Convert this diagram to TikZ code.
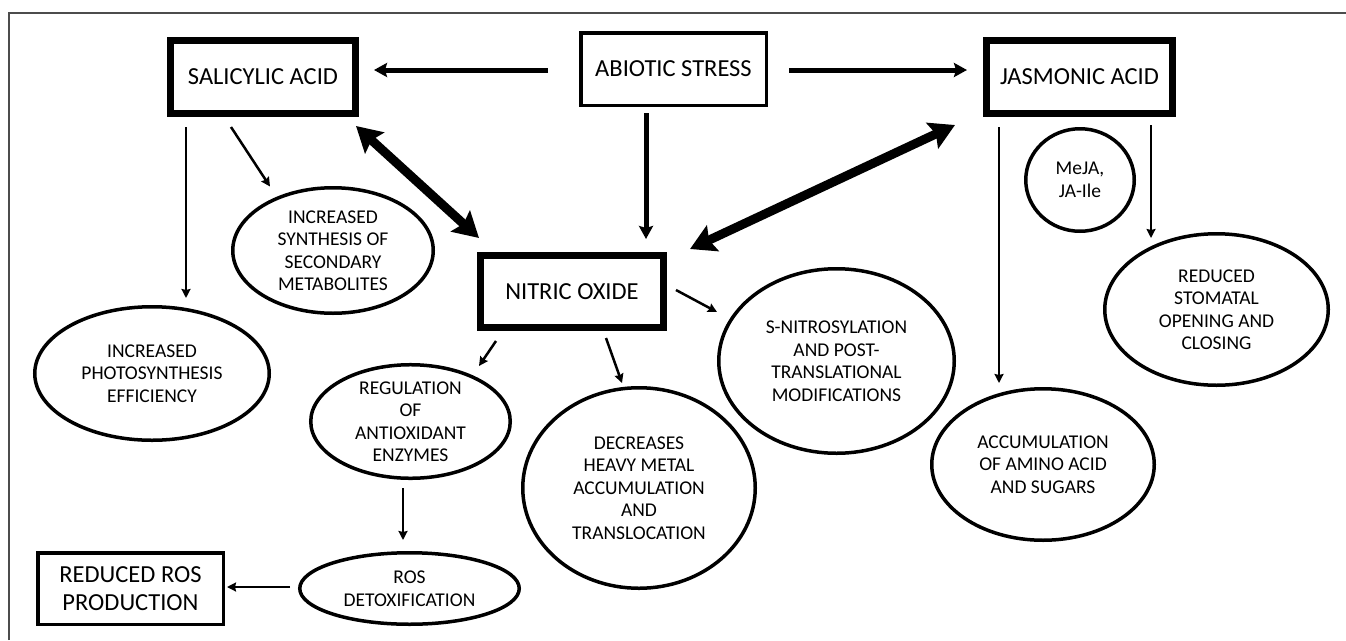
\documentclass[tikz,border=0pt]{standalone}
\usepackage{fontspec}
\setmainfont{Carlito}
\usetikzlibrary{arrows.meta,shapes.geometric,calc}
\tikzset{
  boxthick/.style={draw=black, line width=7pt, rectangle, inner sep=0pt, align=center,
    font=\fontsize{24.5}{28}\selectfont},
  boxthin/.style={draw=black, line width=3.5pt, rectangle, inner sep=0pt, align=center,
    font=\fontsize{24.5}{28}\selectfont},
  oval/.style={draw=black, line width=3.5pt, ellipse, inner sep=0pt, align=center,
    font=\fontsize{19.5}{22.5}\selectfont},
  medarrow/.style={line width=5pt, -{Stealth[length=13pt,width=14pt,inset=2pt]}},
  bigarrow/.style={line width=9pt, {Stealth[length=25pt,width=28pt,inset=4pt]}-{Stealth[length=25pt,width=28pt,inset=4pt]}},
  thinarrow/.style={line width=2.5pt, -{Stealth[length=9pt,width=9pt,inset=1pt]}},
  frameline/.style={draw=black!70, line width=1.2pt}
}
\begin{document}
\begin{tikzpicture}[x=1pt,y=-1pt]
\useasboundingbox (0,0) rectangle (1346,640);
\draw[frameline] (9,640) -- (9,13) -- (1346,13);

% boxes
\node[boxthick, minimum width=185pt, minimum height=73pt] (sa) at (263,77) {SALICYLIC ACID};
\node[boxthin, minimum width=185.5pt, minimum height=72.5pt] (abiotic) at (673.5,69) {ABIOTIC STRESS};
\node[boxthick, minimum width=186pt, minimum height=73pt] (ja) at (1079.5,77) {JASMONIC ACID};
\node[boxthick, minimum width=183pt, minimum height=72pt] (no) at (572,291.5) {NITRIC OXIDE};
\node[boxthin, minimum width=185.5pt, minimum height=71.5pt] (ros) at (130.5,588.5) {REDUCED ROS\\PRODUCTION};

% ellipses
\node[oval, minimum width=200.5pt, minimum height=125.5pt] (sec) at (333,250.5) {INCREASED\\SYNTHESIS OF\\SECONDARY\\METABOLITES};
\node[oval, minimum width=234.5pt, minimum height=133.5pt] (photo) at (152,373.5) {INCREASED\\PHOTOSYNTHESIS\\EFFICIENCY};
\node[oval, minimum width=199.5pt, minimum height=103.5pt] (reg) at (410.5,421.5) {REGULATION\\OF\\ANTIOXIDANT\\ENZYMES};
\node[oval, minimum width=219.5pt, minimum height=71.5pt] (detox) at (409.5,588.5) {ROS\\DETOXIFICATION};
\node[oval, minimum width=232.5pt, minimum height=200.5pt] (dec) at (639,488) {DECREASES\\HEAVY METAL\\ACCUMULATION\\AND\\TRANSLOCATION};
\node[oval, minimum width=235.5pt, minimum height=184.5pt] (snitro) at (836.5,361) {S-NITROSYLATION\\AND POST-\\TRANSLATIONAL\\MODIFICATIONS};
\node[oval, minimum width=222.5pt, minimum height=151.5pt] (accum) at (1043,464.5) {ACCUMULATION\\OF AMINO ACID\\AND SUGARS};
\node[oval, minimum width=108.5pt, minimum height=102.5pt] (meja) at (1080,180) {MeJA,\\JA-Ile};
\node[oval, minimum width=223.5pt, minimum height=151.5pt] (stom) at (1216.5,309.5) {REDUCED\\STOMATAL\\OPENING AND\\CLOSING};

% medium arrows from abiotic stress
\draw[medarrow] ($(abiotic.west)+(-31,1)$) -- ($(sa.east)+(15,-7)$);
\draw[medarrow] ($(abiotic.east)+(21,1)$) -- ($(ja.west)+(-16,-7)$);
\draw[medarrow] ($(abiotic.south)+(-27.5,6)$) -- ($(no.north)+(74,-13)$);

% thick double arrows
\draw[bigarrow] ($(sa.south east)+(-3,9)$) -- ($(no.north west)+(2,-14)$);
\draw[bigarrow] ($(ja.south west)+(-28,8)$) -- ($(no.north east)+(23,-3)$);

% thin arrows
\draw[thinarrow] ($(sa.south west)+(19,10)$) -- ($(photo.north)+(34,-7)$);
\draw[thinarrow] ($(sa.south west)+(64,10)$) -- ($(sec.north)+(-63,0.5)$);
\draw[thinarrow] ($(no.south west)+(19,10)$) -- ($(reg.north)+(68.5,3)$);
\draw[thinarrow] ($(reg.south)+(-7.5,8)$) -- ($(detox.north)+(-6.5,-11)$);
\draw[thinarrow] ($(detox.west)+(-8,-1.5)$) -- ($(ros.east)+(2,-1.5)$);
\draw[thinarrow] ($(no.south)+(34,7)$) -- ($(dec.north)+(-17,-3)$);
\draw[thinarrow] ($(no.east)+(9,-1.5)$) -- ($(snitro.west)+(0,-49)$);
\draw[thinarrow] ($(ja.south west)+(16,10)$) -- ($(accum.north)+(-44,-4)$);
\draw[thinarrow] ($(ja.south east)+(-25,8)$) -- ($(stom.north)+(-65.5,6)$);
\end{tikzpicture}
\end{document}
